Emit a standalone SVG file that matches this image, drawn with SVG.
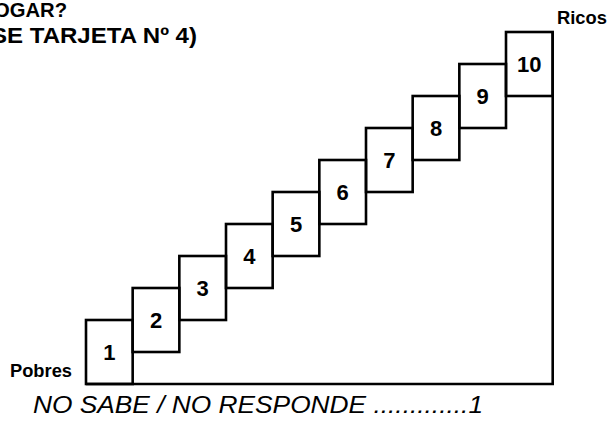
<svg xmlns="http://www.w3.org/2000/svg" width="613" height="427" viewBox="0 0 613 427">
<style>
.box{fill:none;stroke:#000;stroke-width:2.6}
.frame{fill:none;stroke:#000;stroke-width:2.6}
.num{font-family:"Liberation Sans",Arial,sans-serif;font-weight:bold;font-size:22px;text-anchor:middle;fill:#000}
.lbl{font-family:"Liberation Sans",Arial,sans-serif;font-weight:bold;fill:#000}
.foot{font-family:"Liberation Sans",Arial,sans-serif;font-style:italic;font-size:24px;fill:#000}
</style>
<rect width="613" height="427" fill="#fff"/>
<text class="lbl" x="-6" y="17" font-size="21" textLength="73" lengthAdjust="spacingAndGlyphs">OGAR?</text>
<text class="lbl" x="-9" y="43" font-size="22" textLength="206" lengthAdjust="spacingAndGlyphs">SE TARJETA Nº 4)</text>
<text class="lbl" x="557" y="24" font-size="18" textLength="50" lengthAdjust="spacingAndGlyphs">Ricos</text>
<text class="lbl" x="10" y="377" font-size="18" textLength="62" lengthAdjust="spacingAndGlyphs">Pobres</text>
<g id="connectors">
<path class="frame" d="M86,384 H552.7 V32"/>
</g>
<g id="step1"><rect class="box" x="86" y="320" width="46.67" height="64"/><text class="num" x="109.3" y="360">1</text></g>
<g id="step2"><rect class="box" x="132.67" y="288" width="46.67" height="64"/><text class="num" x="156" y="328">2</text></g>
<g id="step3"><rect class="box" x="179.33" y="256" width="46.67" height="64"/><text class="num" x="202.7" y="296">3</text></g>
<g id="step4"><rect class="box" x="226" y="224" width="46.67" height="64"/><text class="num" x="249.3" y="264">4</text></g>
<g id="step5"><rect class="box" x="272.67" y="192" width="46.67" height="64"/><text class="num" x="296" y="232">5</text></g>
<g id="step6"><rect class="box" x="319.33" y="160" width="46.67" height="64"/><text class="num" x="342.7" y="200">6</text></g>
<g id="step7"><rect class="box" x="366" y="128" width="46.67" height="64"/><text class="num" x="389.3" y="168">7</text></g>
<g id="step8"><rect class="box" x="412.67" y="96" width="46.67" height="64"/><text class="num" x="436" y="136">8</text></g>
<g id="step9"><rect class="box" x="459.33" y="64" width="46.67" height="64"/><text class="num" x="482.7" y="104">9</text></g>
<g id="step10"><rect class="box" x="506" y="32" width="46.67" height="64"/><text class="num" x="529.3" y="72">10</text></g>
<text class="foot" x="33" y="413" textLength="450" lengthAdjust="spacingAndGlyphs">NO SABE / NO RESPONDE .............1</text>
</svg>
